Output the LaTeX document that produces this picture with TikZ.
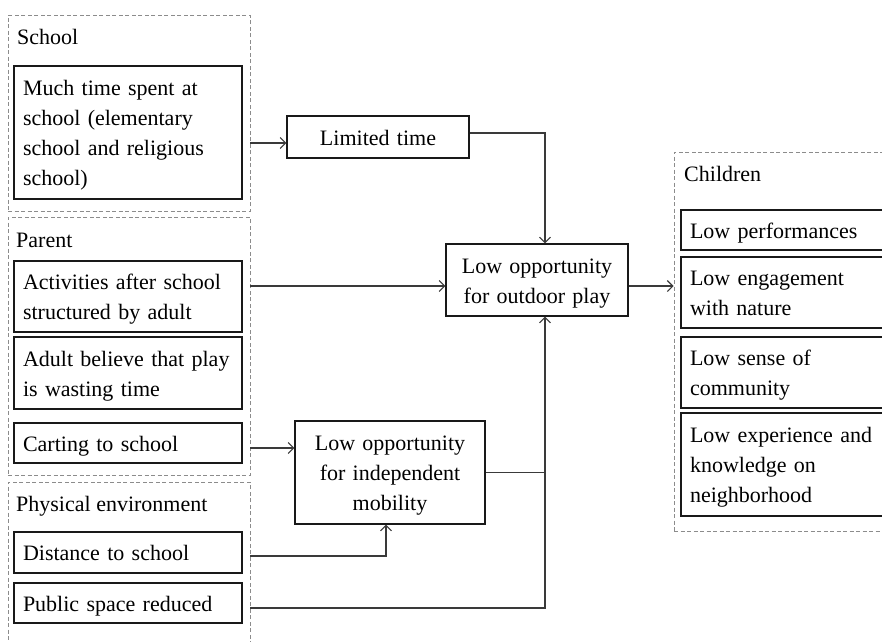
\documentclass[tikz,border=0pt]{standalone}
\usepackage{fontspec}
\setmainfont{Liberation Serif}
\usetikzlibrary{arrows.meta}
\definecolor{linegray}{HTML}{3A3A3A}
\definecolor{dashgray}{HTML}{8C8C8C}
\begin{document}
\begin{tikzpicture}[x=1pt,y=-1pt,
  txt/.style={font=\fontsize{22pt}{30pt}\selectfont, text=black},
  % fixed first-line height and last-line depth so every box centres its text alike
  boxtext/.style={txt, execute at begin node={\rule{0pt}{22pt}}, execute at end node={\rule[-6pt]{0pt}{0pt}}},
  grp/.style={draw=dashgray, line width=0.9pt, dash pattern=on 4pt off 2.5pt, inner sep=0pt},
  title/.style={txt, anchor=base west, inner sep=0pt},
  lbox/.style={boxtext, draw=black!90, line width=1.1pt, align=left, inner xsep=9pt, inner ysep=0pt, minimum width=228pt, text width=210pt},
  cbox/.style={boxtext, draw=black!90, line width=1.1pt, align=left, inner xsep=9pt, inner ysep=0pt, minimum width=210pt, text width=192pt},
  mbox/.style={boxtext, draw=black!90, line width=1.1pt, align=center, inner sep=0pt, text width=#1, minimum width=#1},
  arr/.style={draw=linegray, line width=1.1pt, -{Straight Barb[length=5.5pt,width=11pt]}},
  ln/.style={draw=linegray, line width=1.1pt}]
\path[use as bounding box, fill=white] (0,0) rectangle (882,641);
\clip (0,0) rectangle (882,641);

% groups
\node[grp, minimum width=242pt, minimum height=196pt] (school) at (129,113) {};
\node[grp, minimum width=242pt, minimum height=258pt] (parent) at (129,346) {};
\node[grp, minimum width=242pt, minimum height=168pt] (phys) at (129,566) {};
\node[grp, minimum width=221pt, minimum height=379pt] (children) at (784.5,341.5) {};

\node[title] (tschool) at (17,44) {School};
\node[title] (tparent) at (16,247) {Parent};
\node[title] (tphys) at (16,511) {Physical environment};
\node[title] (tchild) at (684,181) {Children};

% causes
\node[lbox, minimum height=133pt] (much) at (128,132.5) {Much time spent at\\school (elementary\\school and religious\\school)};
\node[lbox, minimum height=71pt] (act) at (128,296.5) {Activities after school\\structured by adult};
\node[lbox, minimum height=72pt] (adult) at (128,373) {Adult believe that play\\is wasting time};
\node[lbox, minimum height=40pt] (cart) at (128,443) {Carting to school};
\node[lbox, minimum height=41pt] (dist) at (128,552.5) {Distance to school};
\node[lbox, minimum height=40pt] (pub) at (128,603) {Public space reduced};

% intermediate effects
\node[mbox=182pt, minimum height=42pt] (limited) at (378,137) {Limited time};
\node[mbox=182pt, minimum height=72pt] (outdoor) at (537,280) {Low opportunity\\for outdoor play};
\node[mbox=190pt, minimum height=103pt] (indep) at (390,472.5) {Low opportunity\\for independent\\mobility};

% outcomes for children
\node[cbox, minimum height=40pt] (perf) at (786,230) {Low performances};
\node[cbox, minimum height=71pt] (eng) at (786,292.5) {Low engagement\\with nature};
\node[cbox, minimum height=71pt] (sense) at (786,372.5) {Low sense of\\community};
\node[cbox, minimum height=103pt] (exp) at (786,464.5) {Low experience and\\knowledge on\\neighborhood};

% connectors
\coordinate (jn) at ([xshift=8pt]outdoor.south);
\draw[arr] ([yshift=-6pt]limited.west -| school.east) -- ([yshift=-6pt]limited.west);
\draw[arr] ([yshift=4pt]limited.east) -| ([xshift=8pt]outdoor.north);
\draw[arr] ([yshift=-6pt]outdoor.west -| parent.east) -- ([yshift=-6pt]outdoor.west);
\draw[arr] ([yshift=-6pt]outdoor.east) -- ([yshift=-6pt]outdoor.east -| children.west);
\draw[arr] ([yshift=-5pt]cart.east -| parent.east) -- ([yshift=-5pt]cart.east -| indep.west);
\draw[arr] ([yshift=-3.5pt]dist.east -| phys.east) -| ([xshift=-4pt]indep.south);
\draw[arr] ([yshift=-5pt]pub.east -| phys.east) -| (jn);
\draw[ln] (indep.east) -- (indep.east -| jn);
\end{tikzpicture}
\end{document}
